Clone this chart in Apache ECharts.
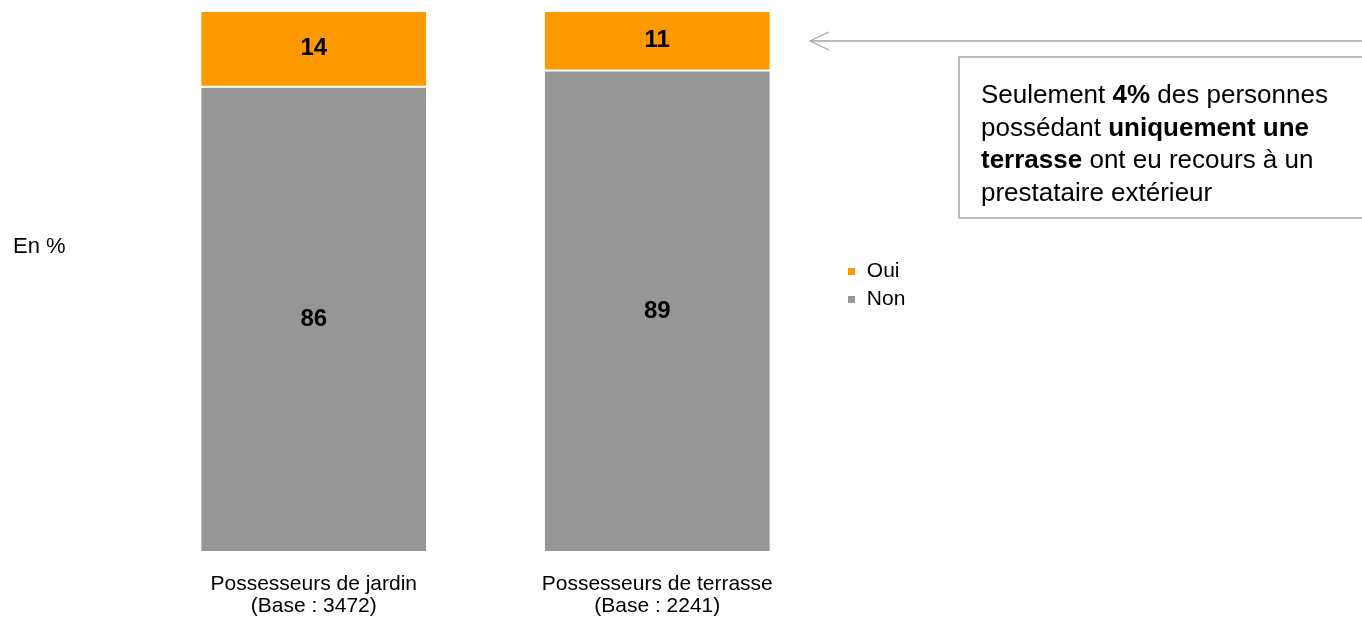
<!DOCTYPE html>
<html><head><meta charset="utf-8">
<script src="https://cdn.jsdelivr.net/npm/echarts@6/dist/echarts.min.js"></script>
<style>html,body{margin:0;padding:0;background:#fff}#c{width:1362px;height:622px}</style>
</head><body><div id="c"></div>
<script>
const categories = ['Possesseurs de jardin\n(Base : 3472)', 'Possesseurs de terrasse\n(Base : 2241)'];
const seriesNames = ['Oui', 'Non'];
const ouiValues = [14, 11];
const nonValues = [86, 89];
const unitLabel = 'En %';

const FONT = 'Liberation Sans, Arial, sans-serif';
const chart = echarts.init(document.getElementById('c'));
chart.setOption({
  animation: false,
  textStyle: { fontFamily: FONT },
  grid: { left: 142, right: 533, top: 11, bottom: 70 },
  legend: {
    data: seriesNames, orient: 'vertical', left: 841, top: 256,
    itemWidth: 9, itemHeight: 9, itemGap: 7, icon: 'rect',
    formatter: ' {name}',
    textStyle: { fontSize: 21, color: '#000', fontFamily: FONT }
  },
  xAxis: {
    type: 'category', data: categories,
    axisLine: { show: false }, axisTick: { show: false },
    axisLabel: { fontSize: 21, color: '#000', margin: 21, lineHeight: 22, fontFamily: FONT }
  },
  yAxis: { type: 'value', min: 0, max: 100, show: false, splitLine: { show: false } },
  series: [
    { name: 'Non', type: 'bar', stack: 't', data: nonValues, barCategoryGap: '34%',
      itemStyle: { color: '#969696', borderColor: '#fff', borderWidth: 1 },
      label: { show: true, position: 'inside', fontSize: 24, fontWeight: 'bold', color: '#000', fontFamily: FONT } },
    { name: 'Oui', type: 'bar', stack: 't', data: ouiValues,
      itemStyle: { color: '#FF9900', borderColor: '#fff', borderWidth: 1 },
      label: { show: true, position: 'inside', fontSize: 24, fontWeight: 'bold', color: '#000', fontFamily: FONT } }
  ],
  graphic: [
    { type: 'text', left: 13, top: 236, style: { text: unitLabel, fontSize: 22, fill: '#000', fontFamily: FONT } },
    { type: 'polyline', shape: { points: [[810, 41], [1362, 41]] }, style: { stroke: '#a6a6a6', lineWidth: 1.5 } },
    { type: 'polyline', shape: { points: [[829, 32], [810, 41], [829, 50]] }, style: { stroke: '#a6a6a6', lineWidth: 1.2, fill: null } },
    { type: 'rect', shape: { x: 959, y: 57, width: 420, height: 161 }, style: { stroke: '#a6a6a6', lineWidth: 1.5, fill: '#fff' } },
    { type: 'text', x: 981, y: 80, style: {
        text: '{r|Seulement }{b|4%}{r| des personnes}\n{r|possédant }{b|uniquement une}\n{b|terrasse}{r| ont eu recours à un}\n{r|prestataire extérieur}',
        fontFamily: FONT, fontSize: 26, fill: '#000', lineHeight: 32.5,
        rich: {
          r: { fontSize: 26, fontFamily: FONT, fill: '#000', lineHeight: 32.5 },
          b: { fontSize: 26, fontFamily: FONT, fill: '#000', fontWeight: 'bold', lineHeight: 32.5 }
        } } }
  ]
});
</script></body></html>
